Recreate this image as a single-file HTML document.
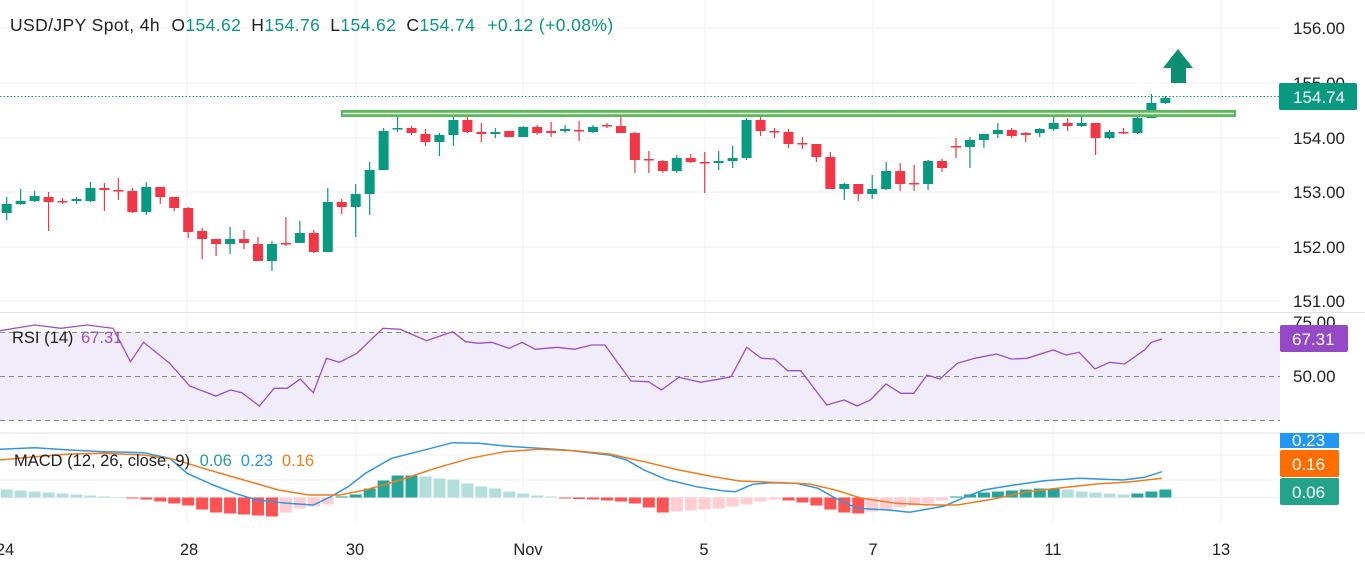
<!DOCTYPE html>
<html><head><meta charset="utf-8"><style>
html,body{margin:0;padding:0;background:#fff;width:1365px;height:570px;overflow:hidden}
svg{display:block;font-family:"Liberation Sans",sans-serif}
</style></head><body>
<svg id="s" width="1365" height="570" viewBox="0 0 1365 570" xmlns="http://www.w3.org/2000/svg">
<rect width="1365" height="570" fill="#fff"/>
<g id="grid" stroke="#f0f1f4" stroke-width="1"></g>
<rect x="0" y="332.5" width="1280" height="88" fill="#f1ecf9"/>
<g stroke="#888" stroke-width="1" stroke-dasharray="5,4">
<line x1="0" y1="332.5" x2="1280" y2="332.5"/><line x1="0" y1="376.5" x2="1280" y2="376.5"/><line x1="0" y1="420.5" x2="1280" y2="420.5"/>
</g>
<line x1="0" y1="312.5" x2="1365" y2="312.5" stroke="#dfe1e5"/>
<line x1="0" y1="433" x2="1365" y2="433" stroke="#dfe1e5"/>
<line x1="0" y1="497.5" x2="1280" y2="497.5" stroke="#eceef2"/>
<line x1="0" y1="96.5" x2="1280" y2="96.5" stroke="#089981" stroke-width="1" stroke-dasharray="1.5,2"/>
<g id="hist"></g>
<g id="candles"></g>
<rect x="341" y="110" width="895" height="7" fill="#5cb85c"/>
<line x1="343" y1="113.5" x2="1234" y2="113.5" stroke="#e8f5e3" stroke-width="1.5"/>
<polygon points="1178,49 1193,68 1186,68 1186,83 1171,83 1171,68 1163,68" fill="#0b8f70"/>
<polyline id="rsi" fill="none" stroke="#9c4fc4" stroke-width="1.3"/>
<polyline id="macd" fill="none" stroke="#2f96e0" stroke-width="1.5"/>
<polyline id="sig" fill="none" stroke="#f07c1c" stroke-width="1.5"/>
<text x="10" y="31" font-size="17.5" letter-spacing="0.4" fill="#222">USD/JPY Spot, 4h <tspan dx="6">O</tspan><tspan fill="#089981">154.62</tspan><tspan dx="10">H</tspan><tspan fill="#089981">154.76</tspan><tspan dx="10">L</tspan><tspan fill="#089981">154.62</tspan><tspan dx="10">C</tspan><tspan fill="#089981">154.74</tspan><tspan dx="12" fill="#089981">+0.12 (+0.08%)</tspan></text>
<g font-size="17" fill="#222">
<text x="1293" y="34">156.00</text><text x="1293" y="89">155.00</text><text x="1293" y="144">154.00</text><text x="1293" y="198">153.00</text><text x="1293" y="253">152.00</text><text x="1293" y="307">151.00</text>
<text x="1293" y="328">75.00</text><text x="1293" y="382">50.00</text>
</g>
<rect x="1279" y="83" width="78" height="27" rx="2" fill="#089981"/>
<text x="1293" y="103" font-size="17" fill="#fff">154.74</text>
<rect x="1280" y="325" width="68" height="27" rx="2" fill="#9549c6"/>
<text x="1292" y="345" font-size="17" fill="#fff">67.31</text>
<rect x="1280" y="433" width="59" height="15" fill="#2196f3"/>
<text x="1292" y="446" font-size="17" fill="#fff">0.23</text>
<rect x="1280" y="450" width="59" height="27" rx="2" fill="#ff6d00"/>
<text x="1292" y="470" font-size="17" fill="#fff">0.16</text>
<rect x="1280" y="478" width="59" height="27" rx="2" fill="#22a38a"/>
<text x="1292" y="498" font-size="17" fill="#fff">0.06</text>
<text x="12" y="343" font-size="16.5" fill="#222">RSI (14) <tspan fill="#9c4fc4" dx="3">67.31</tspan></text>
<text x="14" y="466" font-size="16.5" fill="#222">MACD (12, 26, close, 9) <tspan fill="#22a38a" dx="5">0.06</tspan><tspan fill="#2196f3" dx="9">0.23</tspan><tspan fill="#f07c1c" dx="9">0.16</tspan></text>
<g font-size="16.5" fill="#222" text-anchor="middle">
<text x="5" y="555">24</text><text x="189" y="555">28</text><text x="355" y="555">30</text><text x="528" y="555">Nov</text><text x="704" y="555">5</text><text x="873" y="555">7</text><text x="1053" y="555">11</text><text x="1221" y="555">13</text>
</g>
</svg>
<script>
var NS="http://www.w3.org/2000/svg";
function el(p,t,a){var e=document.createElementNS(NS,t);for(var k in a)e.setAttribute(k,a[k]);p.appendChild(e);return e;}
var g=document.getElementById('grid');
[187,356,523,705,873,1053,1221].forEach(function(x){el(g,'line',{x1:x,y1:0,x2:x,y2:523});});
[28,83,138,192,247,301].forEach(function(y){el(g,'line',{x1:0,y1:y,x2:1280,y2:y});});
[455,480].forEach(function(y){el(g,'line',{x1:0,y1:y,x2:1280,y2:y});});
var C=[[213,204,197,220],[204,201,189,205],[201,196,191,202],[197,202,192,231],[201,202,198,204],[201,199,197,204],[201,188,182,202],[188,190,183,211],[190,191,178,200],[191,212,188,213],[212,187,182,215],[187,197,187,204],[197,208,197,211],[208,232,207,238],[231,239,228,259],[239,244,239,256],[244,239,227,254],[239,243,230,249],[244,261,237,261],[261,244,241,271],[243,244,217,246],[243,233,221,243],[233,252,230,253],[252,202,188,252],[202,207,199,214],[207,194,184,237],[194,170,162,215],[170,131,128,170],[129,128,112,132],[128,133,126,135],[134,142,129,146],[142,135,133,156],[135,120,115,146],[120,132,114,133],[132,134,123,142],[134,132,128,138],[131,137,131,137],[137,127,126,137],[127,133,125,135],[131,133,122,137],[131,129,125,133],[130,131,121,141],[132,127,125,133],[125,126,123,128],[126,133,111,133],[133,160,132,173],[159,160,151,173],[161,171,160,173],[171,158,155,173],[158,162,154,163],
[162,163,152,193],[163,161,151,170],[161,158,146,168],[158,120,118,160],[120,131,117,136],[131,132,128,138],[132,144,129,148],[143,144,137,149],[144,157,144,162],[157,189,152,189],[189,184,183,200],[184,194,184,201],[194,189,175,199],[189,171,162,190],[171,184,163,191],[183,184,165,191],[184,161,160,190],[161,168,159,172],[146,147,138,158],[147,140,137,168],[140,134,136,148],[134,130,123,138],[130,136,128,138],[133,135,132,142],[133,129,128,137],[129,123,110,131],[123,126,118,131],[126,123,113,127],[123,138,123,155],[138,132,130,139],[132,133,128,134],[133,118,115,134],[118,103,94,118],[103,98,96,104]];
var cg=document.getElementById('candles');
C.forEach(function(c,i){var x=6.7+i*13.96;var up=c[1]<=c[0];var col=up?'#089981':'#f23645';
el(cg,'line',{x1:x,y1:c[2],x2:x,y2:c[3],stroke:col,'stroke-width':1.2});
var t=Math.min(c[0],c[1]),h=Math.max(1.5,Math.abs(c[0]-c[1]));
el(cg,'rect',{x:x-5,y:t,width:10,height:h,fill:col});});
var H=[8,7,6,5,4,3,2,1,0.5,-1,-2,-4,-6,-8,-12,-15,-16,-17,-18,-19,-15,-11,-9,-7,1,3,9,17,22,22,21,19,18,14,11,9,6,4,2,1,-1,-1.5,-2,-3,-4,-6,-10,-15,-14,-13,-12,-11,-9,-7,-4,-2,-3,-5,-8,-12,-15,-16,-14,-12,-10,-8,-6,-3,1,3,5,6,7,8,9,9,8,6,5,4,3,4,6,8];
var hg=document.getElementById('hist');
H.forEach(function(v,i){var x=6.7+i*13.96-6;var p=i?H[i-1]:v+1;var col;
if(v>=0)col=(v>=p)?'#26a69a':'#b2dfdb';else col=(v<p)?'#ff5252':'#ffcdd2';
el(hg,'rect',{x:x,y:v>=0?497.5-v:497.5,width:12,height:Math.abs(v),fill:col});});
function pl(id,pts){document.getElementById(id).setAttribute('points',pts.map(function(p){return (p[0]/1.149).toFixed(1)+','+(p[1]/3+310).toFixed(1);}).join(' '));}
pl('rsi',[[0,62],[40,45],[70,55],[100,45],[130,55],[150,155],[165,97],[195,160],[218,228],[248,258],[265,240],[278,248],[298,288],[315,235],[330,235],[345,207],[360,248],[375,145],[390,157],[410,130],[440,55],[460,58],[490,92],[520,65],[535,95],[550,100],[565,97],[585,115],[600,97],[615,118],[640,112],[660,118],[680,105],[695,105],[725,213],[745,215],[760,240],[780,202],[805,217],[825,208],[840,200],[858,112],[875,145],[890,147],[905,182],[920,182],[950,285],[970,270],[985,288],[1000,270],[1018,222],[1035,250],[1050,250],[1065,195],[1080,207],[1100,160],[1120,145],[1145,132],[1162,147],[1180,145],[1210,120],[1225,135],[1240,127],[1258,177],[1275,157],[1292,162],[1315,120],[1323,97],[1335,87]]);
pl('macd',[[0,418],[40,413],[80,420],[120,425],[165,428],[195,445],[215,490],[245,525],[270,550],[295,570],[330,580],[360,585],[380,560],[400,530],[420,490],[450,445],[480,425],[520,398],[550,400],[580,408],[610,413],[650,420],[700,435],[720,450],[740,480],[765,508],[800,530],[830,542],[845,545],[865,523],[885,518],[915,520],[940,535],[960,565],[985,595],[1020,600],[1045,607],[1060,600],[1085,588],[1110,560],[1130,540],[1165,525],[1200,512],[1240,505],[1290,510],[1315,502],[1335,485]]);
pl('sig',[[0,450],[40,440],[80,432],[120,430],[165,435],[200,448],[240,480],[280,510],[320,540],[355,555],[390,555],[420,540],[460,510],[500,475],[540,445],[580,425],[620,418],[660,422],[700,432],[740,455],[780,480],[820,500],[850,513],[900,518],[930,522],[960,540],[990,565],[1030,580],[1070,585],[1100,585],[1140,568],[1180,545],[1220,533],[1260,522],[1300,515],[1335,505]]);
</script>
</body></html>
